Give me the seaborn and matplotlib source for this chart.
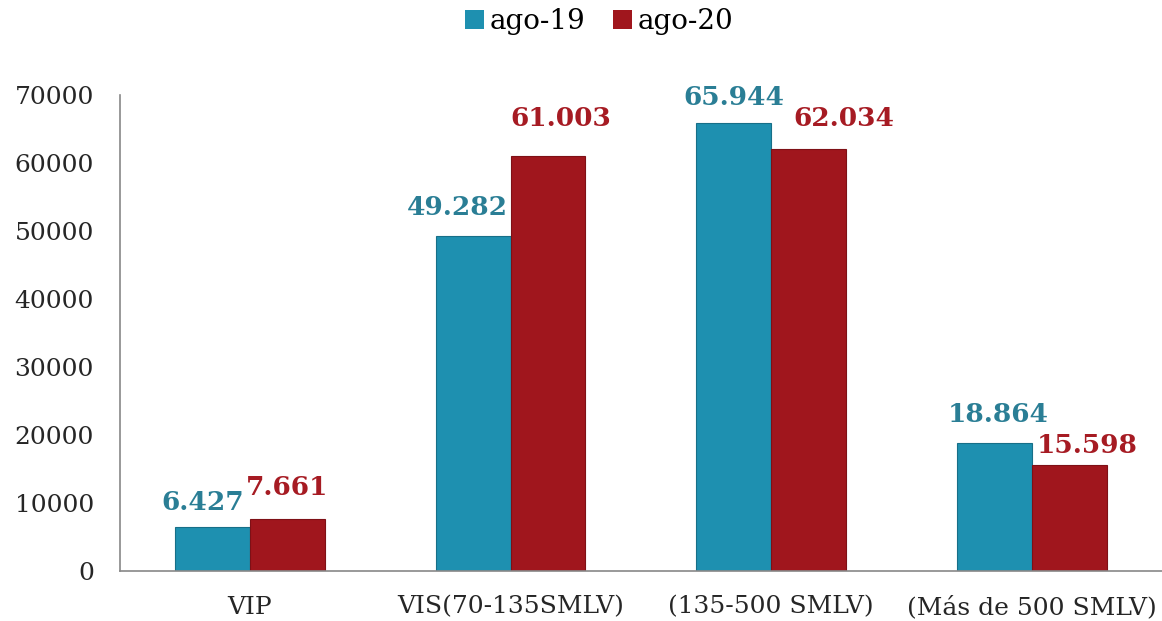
import matplotlib
matplotlib.use("Agg")
import matplotlib.pyplot as plt
import seaborn as sns
import pandas as pd
import numpy as np

categories = ["VIP", "VIS(70-135SMLV)", "(135-500 SMLV)", "(Más de 500 SMLV)"]
series_names = ["ago-19", "ago-20"]
values_ago19 = [6427, 49282, 65944, 18864]
values_ago20 = [7661, 61003, 62034, 15598]
label_19 = ["6.427", "49.282", "65.944", "18.864"]
label_20 = ["7.661", "61.003", "62.034", "15.598"]
yticks = [0, 10000, 20000, 30000, 40000, 50000, 60000, 70000]

bar_colors = ["#1E90B0", "#A0161D"]
edge_colors = ["#176F88", "#7E1016"]
text_colors = ["#2A7E95", "#A61B23"]

# label placement offsets in pixels (dx, gap above bar) - styling only
offs_19 = [(-10, 17), (-16, 21), (0, 18), (4, 21)]
offs_20 = [(0, 24), (13, 30), (35, 23), (18, 12)]

df = pd.DataFrame({
    "cat": categories * 2,
    "serie": [series_names[0]] * 4 + [series_names[1]] * 4,
    "val": values_ago19 + values_ago20,
})

sns.set_style("white")
plt.rcParams["font.family"] = ["DejaVu Serif"]

fig = plt.figure(figsize=(11.62, 6.21), dpi=100)
ax = fig.add_axes([0.103, 0.081, 0.897, 0.766])

sns.barplot(data=df, x="cat", y="val", hue="serie", palette=bar_colors,
            width=0.575, ax=ax, saturation=1, edgecolor="none", legend=True)

PX = 0.72
labels_all = [label_19, label_20]
offs_all = [offs_19, offs_20]
for i, cont in enumerate(ax.containers):
    for j, bar in enumerate(cont):
        bar.set_edgecolor(edge_colors[i])
        bar.set_linewidth(0.8)
        x = bar.get_x() + bar.get_width() / 2
        h = bar.get_height()
        dx, dy = offs_all[i][j]
        ax.annotate(labels_all[i][j], xy=(x, h), xytext=(dx * PX, dy * PX),
                    textcoords="offset points", ha="center", va="baseline",
                    color=text_colors[i], fontsize=19, fontweight="bold")

ax.set_ylim(0, 70000)
ax.set_xlim(-0.5, 3.5)
ax.set_yticks(yticks)
ax.set_yticklabels([str(t) for t in yticks], fontsize=18)
ax.set_xlabel("")
ax.set_ylabel("")
ax.tick_params(axis="x", which="major", length=0, labelsize=18, pad=18)
ax.set_xticks(np.arange(-0.5, 4.0, 1.0), minor=True)
ax.tick_params(axis="x", which="minor", length=6.5, color="#888888", width=1.2, direction="out")
ax.tick_params(axis="y", length=8.6, color="#888888", width=1.2, direction="out", pad=10)
for s in ["top", "right"]:
    ax.spines[s].set_visible(False)
for s in ["left", "bottom"]:
    ax.spines[s].set_color("#888888")
    ax.spines[s].set_linewidth(1.2)

leg = ax.legend(loc="upper center", bbox_to_anchor=(0.46, 1.235), ncol=2,
                frameon=False, fontsize=20, handlelength=0.7, handleheight=0.7,
                handletextpad=0.2, columnspacing=1.0)
for t in leg.get_texts():
    t.set_color("black")

fig.savefig("out.png", dpi=100)
